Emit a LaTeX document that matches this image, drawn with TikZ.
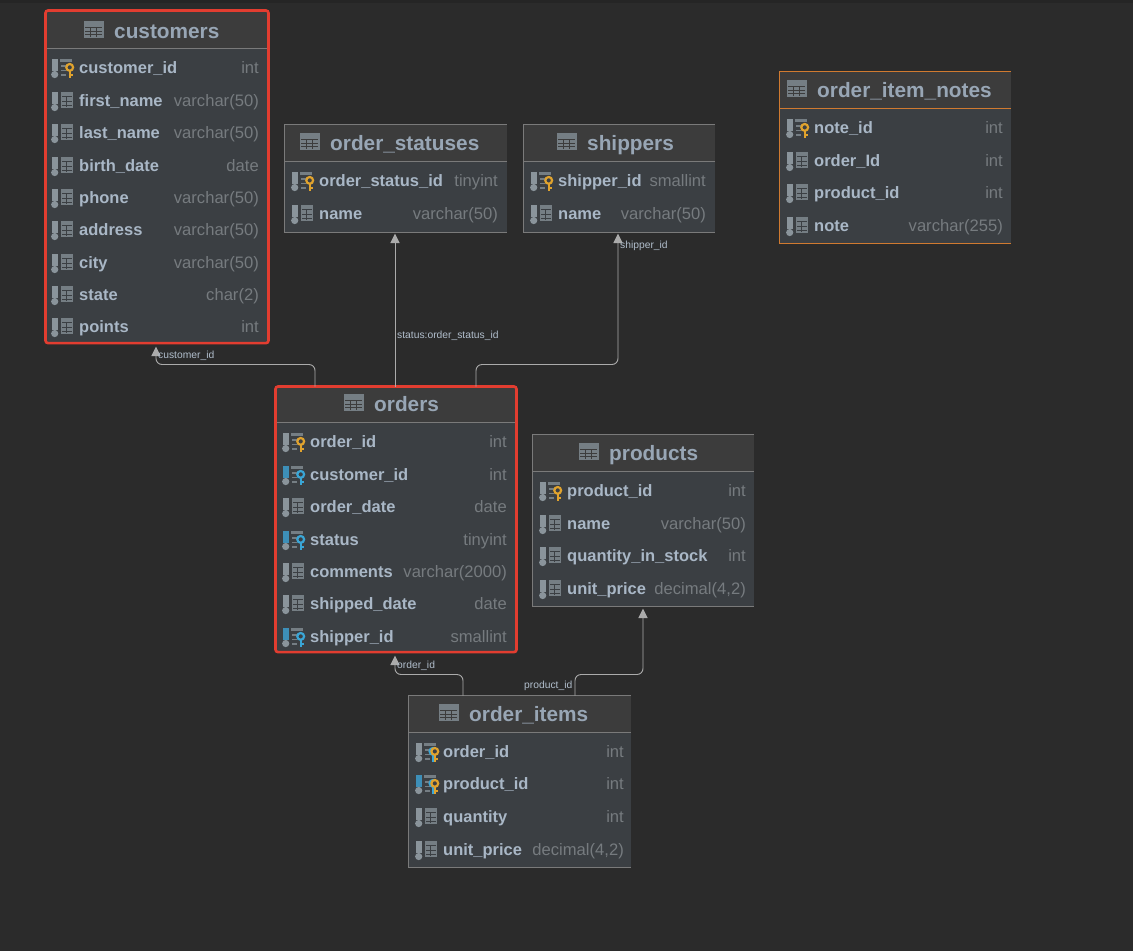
\documentclass[tikz,border=0pt]{standalone}
\usepackage{fontspec}
\setmainfont{Liberation Sans}
\definecolor{bgc}{HTML}{2B2B2B}
\definecolor{stripc}{HTML}{252525}
\definecolor{headc}{HTML}{3C3C3C}
\definecolor{bodyc}{HTML}{3B3F43}
\definecolor{titlec}{HTML}{98A6B5}
\definecolor{namec}{HTML}{A9B7C6}
\definecolor{typec}{HTML}{767B7F}
\definecolor{edgec}{HTML}{7A7A7A}
\definecolor{redc}{HTML}{E23D30}
\definecolor{orangec}{HTML}{D07A30}
\definecolor{linkc}{HTML}{ABABAB}
\definecolor{iconc}{HTML}{8A949B}
\definecolor{yelc}{HTML}{E0A32E}
\definecolor{bluc}{HTML}{3AA6D6}
\definecolor{blubar}{HTML}{3D8FB8}
\newcommand\dectype{decimal(4,2)}
\tikzset{
  x=1pt,y=-1pt,
  tblbody/.style={fill=bodyc,draw=none,inner sep=0,outer sep=0,anchor=north west},
  rim/.style={draw=edgec,line width=1.1pt},
  redrim/.style={draw=redc,line width=2.6pt,rounded corners=2.5pt},
  orangerim/.style={draw=orangec,line width=1.2pt},
  sepgray/.style={draw=edgec,line width=1.1pt},
  seporange/.style={draw=orangec,line width=1.2pt},
  titletext/.style={text=titlec,font=\fontsize{20.8}{23}\selectfont\bfseries,anchor=base west,inner sep=0},
  nametext/.style={text=namec,font=\fontsize{16.5}{18}\selectfont\bfseries,anchor=base west,inner sep=0},
  typetext/.style={text=typec,font=\fontsize{16.6}{18}\selectfont,anchor=base east,inner sep=0},
  linktext/.style={text=namec!90!white,font=\fontsize{10.3}{12}\selectfont,inner sep=0,anchor=base west},
  link/.style={draw=linkc,line width=.9pt,rounded corners=6pt},
  tiphead/.style={fill=linkc,draw=none},
}
% table glyph in the title
\newcommand\titleglyph[2]{%
  \fill[iconc!85!black] (#1-.5,#2-10) rectangle (#1+19.5,#2+7);
  \foreach \u in {-3.7,0,3.5}{\fill[headc] (#1+.7,#2+\u-.4) rectangle (#1+18.3,#2+\u+.4);}
  \foreach \u in {5.5,12.2}{\fill[headc] (#1+\u,#2-3.7) rectangle (#1+\u+.8,#2+5.8);}
}
\newcommand\barbit[3]{%
  \fill[#3] (#1+1,#2-8) rectangle (#1+6.6,#2+3.5);
  \fill[iconc] (#1+3.7,#2+7.5) circle (3.6pt);
}
\newcommand\gridbit[2]{%
  \fill[iconc!85!black] (#1+10,#2-8) rectangle (#1+21.5,#2+8.3);
  \foreach \u in {-3.2,1,5}{\fill[bodyc] (#1+11,#2+\u-.4) rectangle (#1+20.5,#2+\u+.4);}
  \fill[bodyc] (#1+15,#2-3.2) rectangle (#1+15.8,#2+7.2);
}
\newcommand\dashbit[2]{%
  \fill[iconc!85!black] (#1+9,#2-8) rectangle (#1+21,#2-5.5);
  \foreach \u in {-1,3.5,8}{\fill[iconc!85!black] (#1+10,#2+\u-.6) rectangle (#1+15,#2+\u+.6);}
}
\newcommand\keybit[3]{%
  \fill[#3] (#1-1.2,#2+2) rectangle (#1+1.2,#2+11);
  \fill[#3] (#1,#2+7.2) rectangle (#1+3.6,#2+9.2);
  \draw[#3,line width=2.2pt,fill=bodyc] (#1,#2+.4) circle (3.4pt);
}
\newcommand\iconcol[2]{\barbit{#1}{#2}{iconc}\gridbit{#1}{#2}}
\newcommand\iconpk[2]{\barbit{#1}{#2}{iconc}\dashbit{#1}{#2}\keybit{#1+18.7}{#2}{yelc}}
\newcommand\iconfk[2]{\barbit{#1}{#2}{blubar}\dashbit{#1}{#2}\keybit{#1+18.7}{#2}{bluc}}
\newcommand\iconpf[2]{\barbit{#1}{#2}{iconc}\dashbit{#1}{#2}\keybit{#1+18}{#2}{bluc}\keybit{#1+19.8}{#2}{yelc}}
\newcommand\iconff[2]{\barbit{#1}{#2}{blubar}\dashbit{#1}{#2}\keybit{#1+18}{#2}{bluc}\keybit{#1+19.8}{#2}{yelc}}
% id x y w h headerheight glyphx titley title
\newcommand\dbtable[9]{%
  \node[tblbody,minimum width=#4pt,minimum height=#5pt+.6pt] (#1) at (#2-.5,#3-.5) {};
  \fill[headc] (#1.north west) rectangle ([yshift=-#6pt-.6pt]#1.north east);
  \node[titletext] (#1-title) at (#7+30,#8+7.9) {#9};
  \titleglyph{#7}{#8}
}
% id textx typex rows
\newcommand\dbrows[4]{%
  \foreach \yy/\nm/\ty/\ic [count=\n] in {#4}{%
    \csname icon\ic\endcsname{#2-28}{\yy}
    \node[nametext] (#1-n\n) at (#2,\yy+6.2) {\nm};
    \node[typetext] (#1-t\n) at (#3,\yy+6.2) {\ty};
  }%
}
\newcommand\plainframe[2]{%
  \draw[rim] (#1.south east) -- (#1.south west) -- (#1.north west) -- (#1.north east);
  \draw[sepgray] ([yshift=-#2pt-.6pt]#1.north west) -- ([yshift=-#2pt-.6pt]#1.north east);
}
\newcommand\redframe[2]{%
  \draw[sepgray] ([yshift=-#2pt-.6pt]#1.north west) -- ([yshift=-#2pt-.6pt]#1.north east);
  \draw[redrim] (#1.north west) rectangle (#1.south east);
}
\begin{document}
\begin{tikzpicture}
\useasboundingbox (0,0) rectangle (1133,951);
\fill[bgc] (0,0) rectangle (1133,951);
\fill[stripc] (0,0) rectangle (1133,2.5);

\dbtable{customers}{46}{11}{223}{332}{37}{84}{31}{customers}
\redframe{customers}{37}
\dbrows{customers}{79}{259}{67/customer\_id/int/pk,100/first\_name/varchar(50)/col,132/last\_name/varchar(50)/col,165/birth\_date/date/col,197/phone/varchar(50)/col,229/address/varchar(50)/col,262/city/varchar(50)/col,294/state/char(2)/col,326/points/int/col}

\dbtable{statuses}{285}{125}{222}{107}{36}{300}{143}{order\_statuses}
\plainframe{statuses}{36}
\dbrows{statuses}{319}{498}{180/order\_status\_id/tinyint/pk,213/name/varchar(50)/col}

\dbtable{shippers}{524}{125}{191}{107}{36}{557}{143}{shippers}
\plainframe{shippers}{36}
\dbrows{shippers}{558}{706}{180/shipper\_id/smallint/pk,213/name/varchar(50)/col}

\dbtable{notes}{780}{72}{231}{171}{36}{787}{90}{order\_item\_notes}
\draw[orangerim] (notes.south east) -- (notes.south west) -- (notes.north west) -- (notes.north east);
\draw[seporange] ([yshift=-36.6pt]notes.north west) -- ([yshift=-36.6pt]notes.north east);
\dbrows{notes}{814}{1003}{127/note\_id/int/pk,160/order\_Id/int/col,192/product\_id/int/col,225/note/varchar(255)/col}

\dbtable{orders}{276}{387}{241}{265}{35}{344}{404}{orders}
\redframe{orders}{35}
\dbrows{orders}{310}{507}{441/order\_id/int/pk,474/customer\_id/int/fk,506/order\_date/date/col,539/status/tinyint/fk,571/comments/varchar(2000)/col,603/shipped\_date/date/col,636/shipper\_id/smallint/fk}

\dbtable{products}{533}{435}{221}{171}{36}{579}{453}{products}
\plainframe{products}{36}
\dbrows{products}{567}{746}{490/product\_id/int/pk,523/name/varchar(50)/col,555/quantity\_in\_stock/int/col,588/unit\_price/\dectype/col}

\dbtable{items}{409}{696}{222}{171}{36}{439}{714}{order\_items}
\plainframe{items}{36}
\dbrows{items}{443}{624}{751/order\_id/int/pf,783/product\_id/int/ff,816/quantity/int/col,849/unit\_price/\dectype/col}

% connectors
\coordinate (tipcust) at ([xshift=110.5pt,yshift=-3.5pt]customers.south west);
\coordinate (tipstat) at ([xshift=110.5pt,yshift=-1.5pt]statuses.south west);
\coordinate (tipship) at ([xshift=94.5pt,yshift=-1.5pt]shippers.south west);
\coordinate (tiporde) at ([xshift=119.5pt,yshift=-3.5pt]orders.south west);
\coordinate (tipprod) at ([xshift=110.5pt,yshift=-2.5pt]products.south west);
\draw[link] ([xshift=39.5pt]orders.north west) -- ++(0,-22) -| ([yshift=-8pt]tipcust);
\draw[link] ([xshift=119.5pt]orders.north west) -- ([yshift=-8pt]tipstat);
\draw[link] ([xshift=200.5pt]orders.north west) -- ++(0,-22) -| ([yshift=-8pt]tipship);
\draw[link] ([xshift=54.5pt]items.north west) -- ++(0,-21) -| ([yshift=-8pt]tiporde);
\draw[link] ([xshift=166.5pt]items.north west) -- ++(0,-21) -| ([yshift=-8pt]tipprod);
\foreach \t in {tipcust,tipstat,tipship,tiporde,tipprod}{
  \fill[tiphead] (\t) -- ([xshift=-4.7pt,yshift=-9.5pt]\t) -- ([xshift=4.7pt,yshift=-9.5pt]\t) -- cycle;
}
\node[linktext] (lab1) at (158,358.7) {customer\_id};
\node[linktext] (lab2) at (397,338.7) {status:order\_status\_id};
\node[linktext] (lab3) at (620,248.7) {shipper\_id};
\node[linktext] (lab4) at (397,668.7) {order\_id};
\node[linktext] (lab5) at (524,688.7) {product\_id};
\end{tikzpicture}
\end{document}
